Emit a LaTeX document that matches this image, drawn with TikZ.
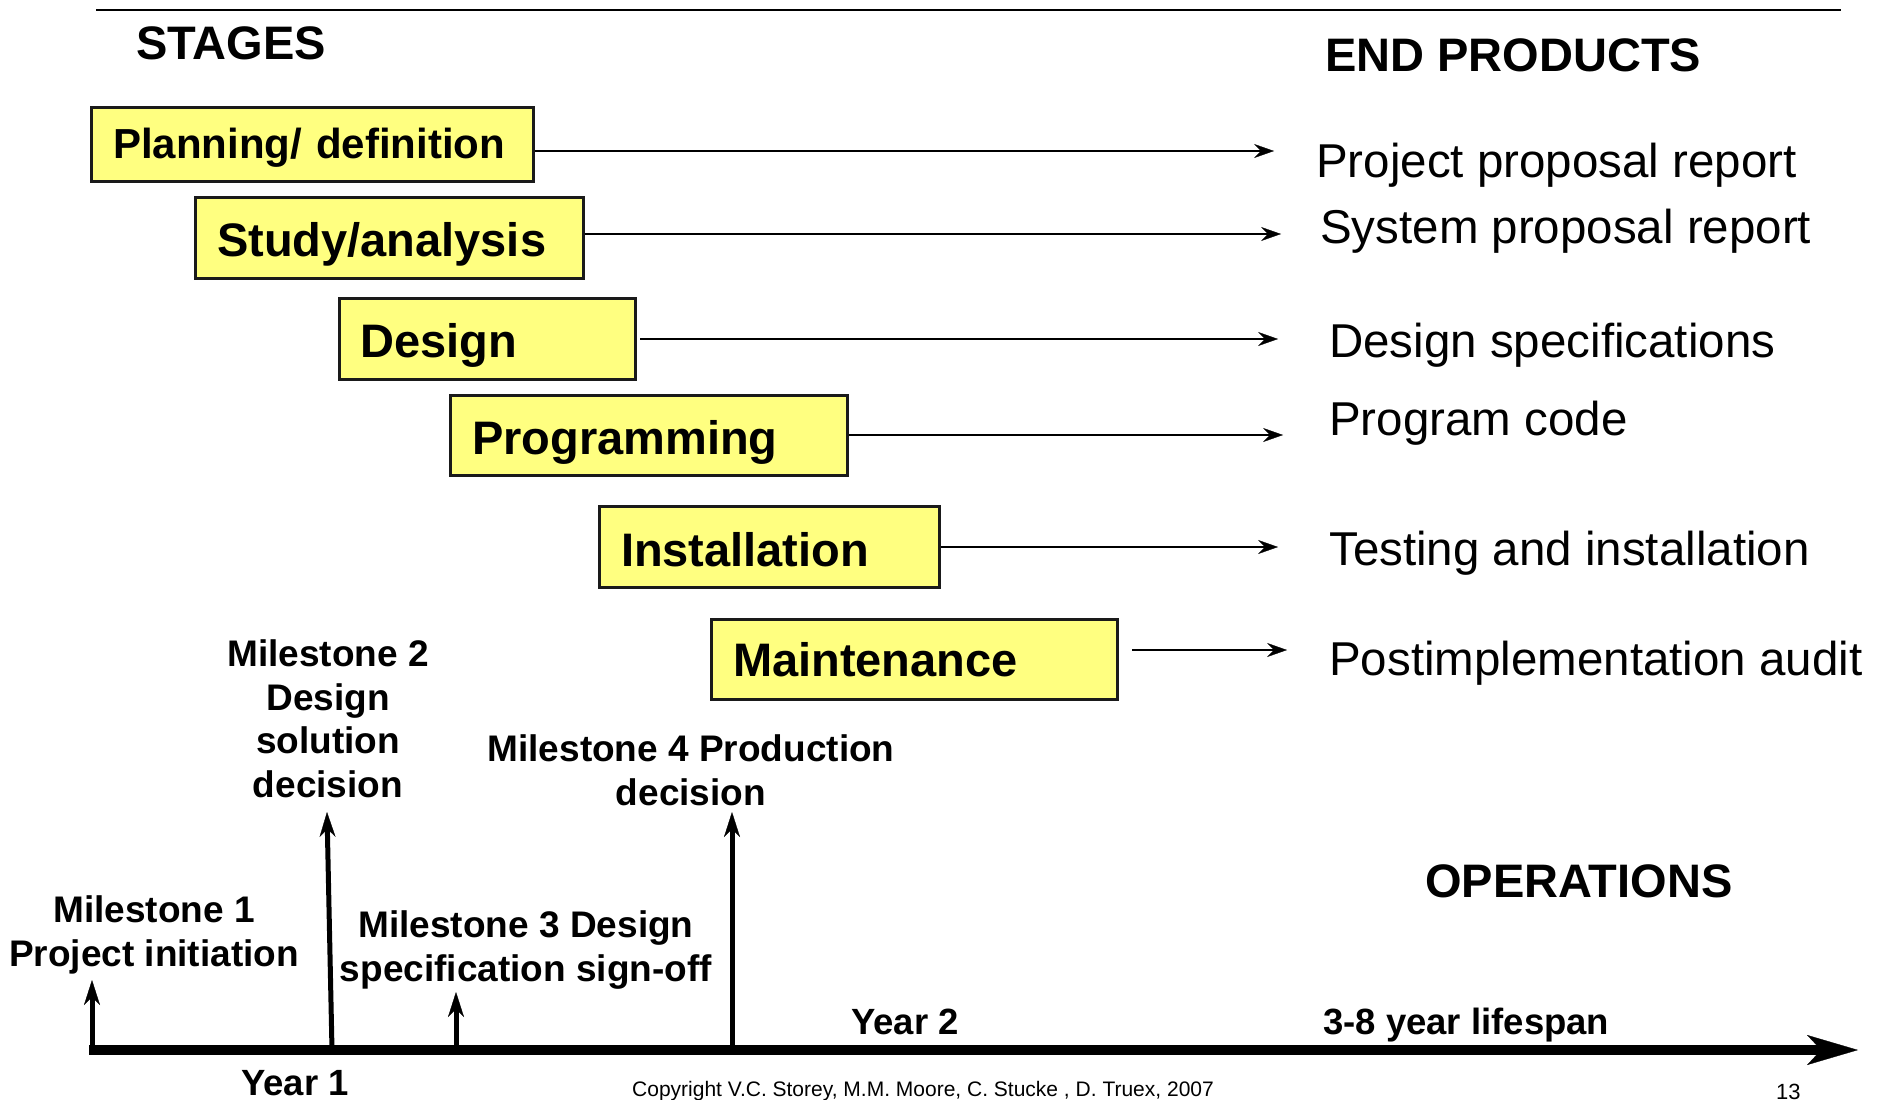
\documentclass[tikz,border=0pt]{standalone}
\usepackage{fontspec}
\setmainfont{Liberation Sans}
\usetikzlibrary{arrows.meta}
\definecolor{boxfill}{HTML}{FFFF80}
\definecolor{boxline}{HTML}{1A1A1A}
\begin{document}
\begin{tikzpicture}[x=1pt,y=-1pt,
  stagebox/.style={draw=boxline, line width=3pt, fill=boxfill, anchor=north west,
    inner xsep=21.5pt, inner ysep=0pt, align=left, text depth=0pt,
    font=\fontsize{47}{56}\selectfont\bfseries},
  head/.style={anchor=base west, inner sep=0pt, font=\fontsize{47}{56}\selectfont\bfseries},
  prod/.style={anchor=base west, inner sep=0pt, font=\fontsize{47.5}{56}\selectfont},
  mstext/.style={anchor=base, inner sep=0pt, align=center, font=\fontsize{37}{43.5}\selectfont\bfseries},
  yeartext/.style={anchor=base west, inner sep=0pt, font=\fontsize{36.5}{43}\selectfont\bfseries},
  small/.style={anchor=base west, inner sep=0pt},
  prodarr/.style={line width=2.8pt, -{Stealth[length=20pt,width=14pt,inset=7pt,line width=0.3pt]}},
  msarr/.style={line width=5pt, -{Stealth[length=25pt,width=16pt,inset=8pt,line width=0.3pt]}},
  timeline/.style={line width=10pt, -{Stealth[length=51pt,width=30pt,inset=14pt,line width=0.3pt]}},
]
\useasboundingbox (0,0) rectangle (1890,1100);
\fill[white] (0,0) rectangle (1890,1100);

% top rule
\coordinate (tl0) at (96,10);
\coordinate (tl1) at (1841,10);
\draw[line width=2.5pt] (tl0) -- (tl1);

% headings
\node[head] (stages) at (136,59) {STAGES};
\node[head] (endprod) at (1325,71) {END PRODUCTS};
\node[head] (ops) at (1425,897) {OPERATIONS};

% stage boxes
\node[stagebox, minimum width=442pt, minimum height=74pt, text width=399pt, text height=28pt,
  font=\fontsize{42}{50}\selectfont\bfseries] (plan) at (90,106) {Planning/ definition};
\node[stagebox, minimum width=388pt, minimum height=81pt, text width=345pt, text height=37pt] (study) at (194,196) {Study/analysis};
\node[stagebox, minimum width=296.5pt, minimum height=81pt, text width=253.5pt, text height=37pt] (design) at (337.5,297) {Design};
\node[stagebox, minimum width=397pt, minimum height=80pt, text width=354pt, text height=38pt] (prog) at (449,394) {Programming};
\node[stagebox, minimum width=340pt, minimum height=81pt, text width=297pt, text height=38pt] (inst) at (598,505) {Installation};
\node[stagebox, minimum width=406pt, minimum height=80pt, text width=363pt, text height=34pt] (maint) at (710,618) {Maintenance};

% end products
\node[prod] (p1) at (1316,177) {Project proposal report};
\node[prod] (p2) at (1320,243) {System proposal report};
\node[prod] (p3) at (1329,357) {Design specifications};
\node[prod] (p4) at (1329,435) {Program code};
\node[prod] (p5) at (1329,565) {Testing and installation};
\node[prod] (p6) at (1329,675) {Postimplementation audit};

% stage arrows
\coordinate (e1) at (1274,151);
\coordinate (e2) at (1281,234);
\coordinate (e3) at (1278,339);
\coordinate (e4) at (1283,435);
\coordinate (e5) at (1278,547);
\coordinate (e6) at (1287,650);
\draw[prodarr] (plan.east |- e1) -- (e1);
\draw[prodarr] (study.east |- e2) -- (e2);
\draw[prodarr, shorten <=3pt] (design.east |- e3) -- (e3);
\draw[prodarr] (prog.east |- e4) -- (e4);
\draw[prodarr] (inst.east |- e5) -- (e5);
\draw[prodarr, shorten <=13pt] (maint.east |- e6) -- (e6);

% milestones (anchor = baseline of last line)
\node[mstext] (ms1) at (154,966) {Milestone 1\\Project initiation};
\node[mstext] (ms2) at (328,797) {Milestone 2\\Design\\solution\\decision};
\node[mstext] (ms3) at (526,981) {Milestone 3 Design\\specification sign-off};
\node[mstext] (ms4) at (691,805) {Milestone 4 Production\\decision};

\coordinate (m1b) at (92,1050);  \coordinate (m1t) at (92,980);
\coordinate (m2b) at (332,1050); \coordinate (m2t) at (327,812);
\coordinate (m3b) at (456,1050); \coordinate (m3t) at (456,992);
\coordinate (m4b) at (732,1050); \coordinate (m4t) at (732,812);
\draw[msarr] (m1b) -- (m1t);
\draw[msarr] (m2b) -- (m2t);
\draw[msarr] (m3b) -- (m3t);
\draw[msarr] (m4b) -- (m4t);

% timeline
\coordinate (t0) at (89,1050);
\coordinate (t1) at (1858,1050);
\draw[timeline] (t0) -- (t1);

\node[yeartext] (y1) at (241,1095) {Year 1};
\node[yeartext] (y2) at (851,1034) {Year 2};
\node[yeartext] (y3) at (1323,1034) {3-8 year lifespan};

\node[small, font=\fontsize{21}{25}\selectfont] (copy) at (632,1096) {Copyright V.C. Storey, M.M. Moore, C. Stucke , D. Truex, 2007};
\node[small, font=\fontsize{22}{26}\selectfont] (pg) at (1776,1099) {13};
\end{tikzpicture}
\end{document}
